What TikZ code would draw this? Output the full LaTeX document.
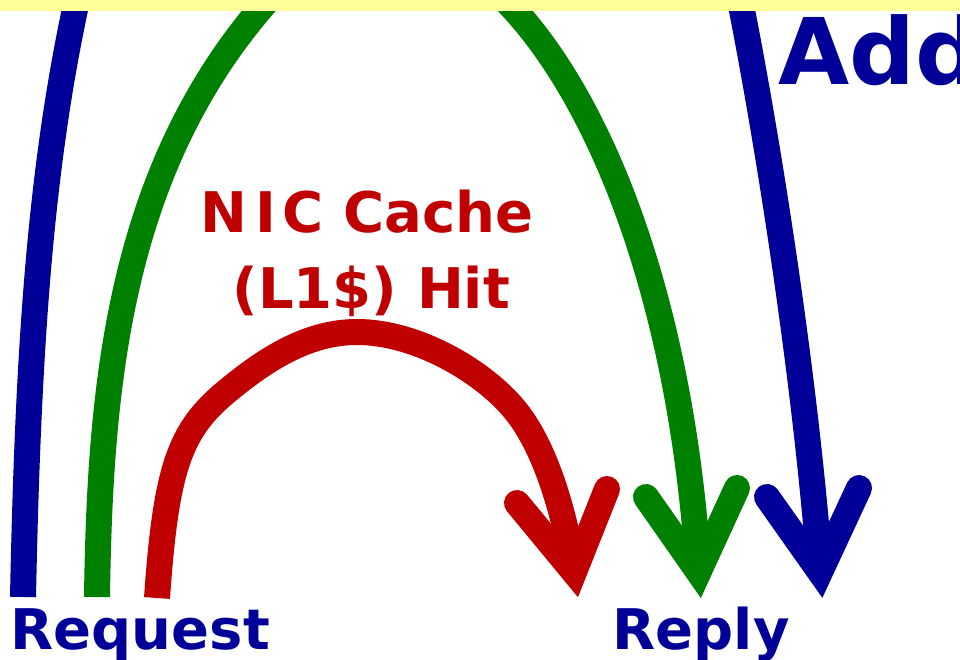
\documentclass[tikz,border=0pt]{standalone}
\usepackage{fontspec}
\setmainfont{DejaVu Sans}
\definecolor{dblue}{HTML}{000099}
\definecolor{dgreen}{HTML}{008000}
\definecolor{dred}{HTML}{C00000}
\definecolor{yel}{HTML}{FFFF99}
\begin{document}
\begin{tikzpicture}[x=1pt,y=-1pt,
  flow/.style={line width=26pt, line cap=butt, line join=round},
  head/.style={line width=26pt, line cap=round, line join=miter},
  lbl/.style={anchor=base west, inner sep=0pt, font=\bfseries\fontsize{56}{60}\selectfont}]
\useasboundingbox (0,0) rectangle (960,660);
\clip (0,0) rectangle (960,660);
% end points
\coordinate (bS) at (23,597);
\coordinate (bV) at (820,572);
\coordinate (bL) at (767,497);
\coordinate (bR) at (859,488);
\coordinate (gS) at (97,597);
\coordinate (gV) at (698.5,572);
\coordinate (gL) at (646,497);
\coordinate (gR) at (737,488);
\coordinate (rS) at (157,598);
\coordinate (rV) at (574,572);
\coordinate (rL) at (517,503);
\coordinate (rR) at (607,489);
% blue
\draw[flow, dblue] (bS) .. controls (28,350) and (40,170) .. (77,0)
  .. controls (110,-150) and (700,-150) .. (738,-10)
  .. controls (770,150) and (806,385) .. (bV);
\draw[head, dblue] (bL) -- (bV) -- (bR);
% green
\draw[flow, dgreen] (gS) .. controls (100,380) and (120,160) .. (277,-10)
  .. controls (330,-70) and (440,-70) .. (495,-10)
  .. controls (597,85) and (681,295) .. (gV);
\draw[head, dgreen] (gL) -- (gV) -- (gR);
% red
\draw[flow, dred] (rS) .. controls (166,468) and (179.8,430.4) .. (226,392)
  .. controls (264.5,360) and (307,332) .. (357,332)
  .. controls (417,332) and (483.5,371.5) .. (515,410)
  .. controls (552.8,456.2) and (569,540) .. (rV);
\draw[head, dred] (rL) -- (rV) -- (rR);
% top band
\fill[yel] (0,0) rectangle (960,11);
% labels
\node[lbl, dblue] (req) at (10.5,649) {Request};
\node[lbl, dblue] (rep) at (612.5,649) {Reply};
\node[lbl, dblue, font=\bfseries\fontsize{92}{96}\selectfont] (add) at (778,85) {Add};
\node[lbl, dred] (hitA) at (200,233) {N\kern8pt I\kern7pt C Cache};
\node[lbl, dred] (hitB) at (232.5,308) {(L1\$) Hit};
\end{tikzpicture}
\end{document}
